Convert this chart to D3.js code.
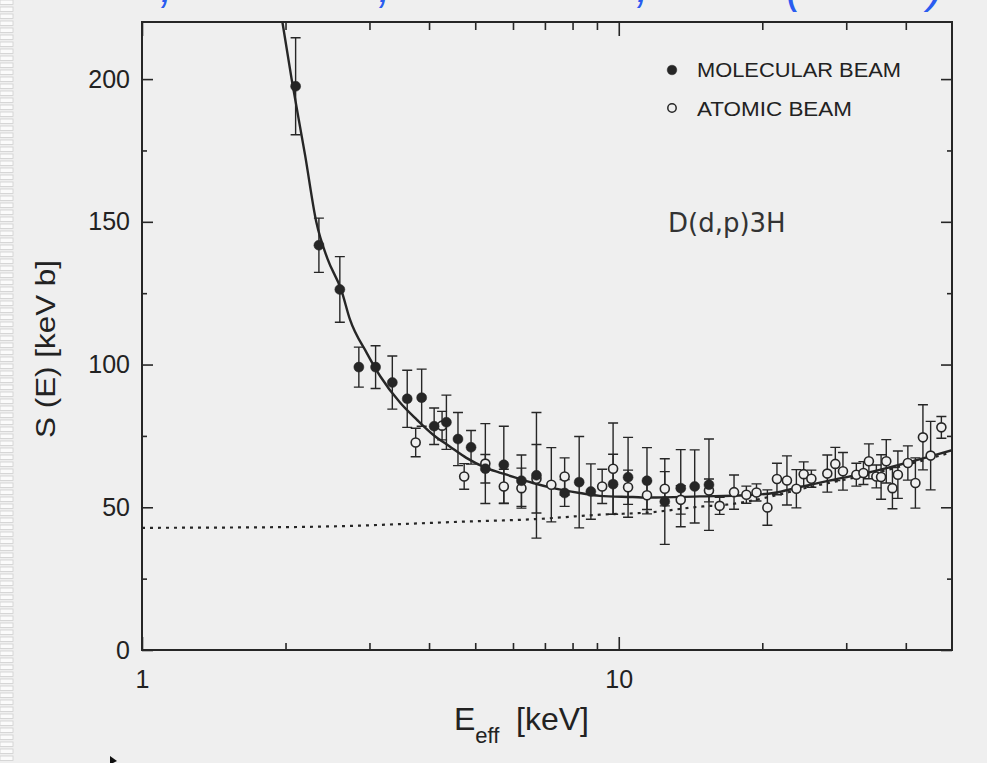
<!DOCTYPE html>
<html>
<head>
<meta charset="utf-8">
<script src="https://cdn.jsdelivr.net/npm/d3@7"></script>
<style>
  html, body { margin: 0; padding: 0; background: #efefef; }
  svg { display: block; }
  text { font-family: "Liberation Sans", Arial, sans-serif; fill: #222; }
</style>
</head>
<body>
<svg width="987" height="763"></svg>
<script>
// molecular beam (filled points): E_eff [keV], S(E) [keV b], error
const molE   = [2.10, 2.35, 2.60, 2.85, 3.09, 3.35, 3.60, 3.86, 4.10, 4.35, 4.60, 4.90, 5.25, 5.74, 6.25, 6.72, 7.70, 8.26, 8.74, 9.73, 10.46, 11.46, 12.49, 13.49, 14.43, 15.46];
const molS   = [197.5, 141.8, 126.3, 99.1, 99.1, 93.7, 88.0, 88.4, 78.4, 79.8, 73.9, 71.0, 63.5, 64.9, 59.3, 61.2, 55.0, 58.8, 55.5, 58.1, 60.5, 59.3, 52.0, 56.7, 57.3, 57.9];
const molErr = [17, 9.5, 11.5, 7, 7.5, 9.3, 10, 10, 6.4, 9.5, 9.3, 5.9, 5, 13.5, 9, 22, 4.7, 16, 9.7, 10.5, 14, 11.6, 15, 13.5, 12.8, 16];

// atomic beam (open points)
const atoE   = [3.75, 4.26, 4.74, 5.25, 5.74, 6.25, 6.72, 7.22, 7.70, 9.23, 9.73, 10.46, 11.46, 12.49, 13.49, 15.46, 16.28, 17.45, 18.52, 19.45, 20.5, 21.47, 22.53, 23.58, 24.43, 25.35, 27.38, 28.46, 29.53, 31.5, 32.6, 33.47, 34.7, 35.5, 36.4, 37.5, 38.5, 40.4, 41.9, 43.45, 45.1, 47.5];
const atoS   = [72.7, 78.6, 60.8, 65.3, 57.3, 56.7, 60.0, 57.9, 60.8, 57.3, 63.5, 57.0, 54.2, 56.5, 52.6, 55.9, 50.5, 55.3, 54.4, 55.2, 49.9, 59.9, 59.4, 56.5, 61.6, 60.0, 61.8, 65.2, 62.6, 61.4, 62.0, 66.1, 60.8, 60.6, 66.1, 56.7, 61.4, 65.5, 58.5, 74.5, 68.1, 78.0];
const atoErr = [5, 5, 4.5, 14, 6, 7, 12, 13, 6.5, 6, 16, 6, 5, 6, 5, 4, 3, 6, 3, 3, 6.2, 5.5, 8.6, 6.7, 4.3, 3, 6.5, 5.8, 6.6, 4, 4, 6.1, 4, 7.8, 7.6, 7.2, 8.3, 6, 8.8, 11.4, 12, 3.8];

// fit with electron screening (solid) and bare S-factor (dotted)
const fitE  = [1.97, 2.06, 2.20, 2.32, 2.45, 2.62, 2.73, 2.96, 3.16, 3.48, 3.77, 4.08, 4.42, 4.79, 5.28, 5.82, 6.61, 7.28, 8.28, 9.12, 10.7, 11.6, 14.8, 18.4, 21.1, 24.0, 28.1, 33.1, 38.8, 45.6, 50];
const fitS  = [220, 200, 173, 150, 137, 126, 115.8, 104.1, 95.9, 86.6, 80.7, 75.4, 71.3, 67.3, 63.7, 61.4, 58.5, 56.7, 55.0, 54.0, 53.6, 53.4, 53.8, 54.2, 55.0, 57.1, 59.6, 62.0, 64.9, 68.1, 70.0];
const bareE = [1, 2.14, 2.48, 4.79, 6.61, 9.12, 11.6, 15.0, 16.8, 21.4, 24.0, 28.1, 33.1, 38.8, 45.6, 50];
const bareS = [42.8, 43.1, 43.3, 45.0, 45.8, 47.4, 48.2, 50.3, 50.9, 54.2, 56.3, 58.8, 61.3, 64.2, 67.4, 69.3];

const yMajor = [0, 50, 100, 150, 200];
const yMinor = [25, 75, 125, 175];
const xMajor = [1, 10];
const xMinor = [2, 3, 4, 5, 6, 7, 8, 9, 20, 30, 40];

const legendItems = ["MOLECULAR BEAM", "ATOMIC BEAM"];
const reaction = "D(d,p)3H";

const svg = d3.select("svg");
const margin = { top: 22, right: 35, bottom: 113, left: 142 };
const W = +svg.attr("width"), H = +svg.attr("height");

const x = d3.scaleLog().domain([1, 50]).range([margin.left, W - margin.right]);
const y = d3.scaleLinear().domain([0, 220]).range([H - margin.bottom, margin.top]);

const ink = "#262626";
const bg = "#efefef";

// striped slide border on the left
svg.append("g").selectAll("rect")
    .data(d3.range(0, H, 7))
    .enter().append("rect")
    .attr("x", 0).attr("y", d => d).attr("width", 13).attr("height", 4.5)
    .attr("fill", "#fbfbfb").attr("stroke", "#cfcfcf").attr("stroke-width", 0.8);

// bottom of the cropped slide title
const title = svg.append("g").attr("font-size", 46).attr("font-style", "italic");
[[160, ","], [378, ","], [636, ","], [786, "("], [928, ")"]].forEach(p => {
    title.append("text").attr("x", p[0]).attr("y", 2).text(p[1])
        .style("fill", "#2a5cf0").style("font-size", "46px");
});

function cleanAxis(g) {
    g.attr("font-size", null).attr("font-family", null).attr("color", ink);
    g.select(".domain").remove();
    g.selectAll(".tick line").attr("stroke-width", 1.6);
    g.selectAll("text").style("font-size", "25px");
}

// y axes
svg.append("g").attr("transform", `translate(${margin.left},0)`)
    .call(d3.axisLeft(y).tickValues(yMajor).tickSize(-11).tickPadding(12).tickFormat(d3.format("d")))
    .call(cleanAxis);
svg.append("g").attr("transform", `translate(${margin.left},0)`)
    .call(d3.axisLeft(y).tickValues(yMinor).tickSize(-5).tickFormat(""))
    .call(cleanAxis);
svg.append("g").attr("transform", `translate(${W - margin.right},0)`)
    .call(d3.axisRight(y).tickValues(yMajor).tickSize(-11).tickFormat(""))
    .call(cleanAxis);
svg.append("g").attr("transform", `translate(${W - margin.right},0)`)
    .call(d3.axisRight(y).tickValues(yMinor).tickSize(-5).tickFormat(""))
    .call(cleanAxis);

// x axes
svg.append("g").attr("transform", `translate(0,${H - margin.bottom})`)
    .call(d3.axisBottom(x).tickValues(xMajor).tickSize(-13).tickPadding(20).tickFormat(d3.format("d")))
    .call(cleanAxis);
svg.append("g").attr("transform", `translate(0,${H - margin.bottom})`)
    .call(d3.axisBottom(x).tickValues(xMinor).tickSize(-7).tickFormat(""))
    .call(cleanAxis);
svg.append("g").attr("transform", `translate(0,${margin.top})`)
    .call(d3.axisTop(x).tickValues(xMajor).tickSize(-14).tickFormat(""))
    .call(cleanAxis);
svg.append("g").attr("transform", `translate(0,${margin.top})`)
    .call(d3.axisTop(x).tickValues(xMinor).tickSize(-8).tickFormat(""))
    .call(cleanAxis);

// frame
svg.append("rect")
    .attr("x", margin.left).attr("y", margin.top)
    .attr("width", W - margin.left - margin.right)
    .attr("height", H - margin.top - margin.bottom)
    .attr("fill", "none").attr("stroke", ink).attr("stroke-width", 2);

// axis titles
svg.append("text")
    .attr("transform", `translate(55,349) rotate(-90)`)
    .attr("text-anchor", "middle")
    .attr("textLength", 178).attr("lengthAdjust", "spacingAndGlyphs")
    .style("font-size", "28px")
    .text("S (E) [keV b]");

const xt = svg.append("text").attr("x", 454).attr("y", 730).style("font-size", "32px");
xt.append("tspan").text("E");
xt.append("tspan").attr("dy", 13).style("font-size", "22px").text("eff");
xt.append("tspan").attr("x", 516).attr("dy", -13).text("[keV]");

// curves
const plot = svg.append("g");
plot.append("clipPath").attr("id", "clip").append("rect")
    .attr("x", margin.left).attr("y", margin.top)
    .attr("width", W - margin.left - margin.right)
    .attr("height", H - margin.top - margin.bottom);
const curves = plot.append("g").attr("clip-path", "url(#clip)");

const line = d3.line().x(d => x(d[0])).y(d => y(d[1])).curve(d3.curveMonotoneX);

curves.append("path")
    .attr("d", line(d3.zip(bareE, bareS)))
    .attr("fill", "none").attr("stroke", ink)
    .attr("stroke-width", 2.2).attr("stroke-dasharray", "3,5");

curves.append("path")
    .attr("d", line(d3.zip(fitE, fitS)))
    .attr("fill", "none").attr("stroke", ink).attr("stroke-width", 2.4);

// error bars and markers
const mol = molE.map((e, i) => ({ e: e, s: molS[i], err: molErr[i], filled: true }));
const ato = atoE.map((e, i) => ({ e: e, s: atoS[i], err: atoErr[i], filled: false }));
const points = ato.concat(mol);

const bars = plot.append("g").attr("stroke", ink).attr("stroke-width", 1.4).attr("fill", "none");
bars.selectAll("path")
    .data(points)
    .enter().append("path")
    .attr("d", d => {
        const px = x(d.e), lo = y(d.s - d.err), hi = y(d.s + d.err);
        return `M${px},${lo}V${hi}M${px - 5},${hi}H${px + 5}M${px - 5},${lo}H${px + 5}`;
    });

plot.append("g").selectAll("circle")
    .data(points)
    .enter().append("circle")
    .attr("cx", d => x(d.e))
    .attr("cy", d => y(d.s))
    .attr("r", d => d.filled ? 5 : 4.5)
    .attr("fill", d => d.filled ? ink : bg)
    .attr("stroke", ink)
    .attr("stroke-width", d => d.filled ? 0.5 : 1.6);

// legend
const legend = svg.append("g");
legendItems.forEach((name, i) => {
    legend.append("circle")
        .attr("cx", 672).attr("cy", 70 + i * 38)
        .attr("r", i === 0 ? 4.8 : 4.2)
        .attr("fill", i === 0 ? ink : bg)
        .attr("stroke", ink).attr("stroke-width", i === 0 ? 0.5 : 1.5);
    legend.append("text")
        .attr("x", 697).attr("y", 77 + i * 38.5)
        .attr("textLength", i === 0 ? 204 : 155).attr("lengthAdjust", "spacingAndGlyphs")
        .style("font-size", "19.5px")
        .text(name);
});

svg.append("text")
    .attr("x", 668).attr("y", 232)
    .style("font-family", "'DejaVu Sans', Verdana, sans-serif")
    .style("font-size", "26px").style("fill", "#333")
    .text(reaction);

// small pointer mark at bottom left of the slide
svg.append("path")
    .attr("d", "M110,756L117,761L113,763L110,763Z")
    .attr("fill", "#111");
</script>
</body>
</html>
